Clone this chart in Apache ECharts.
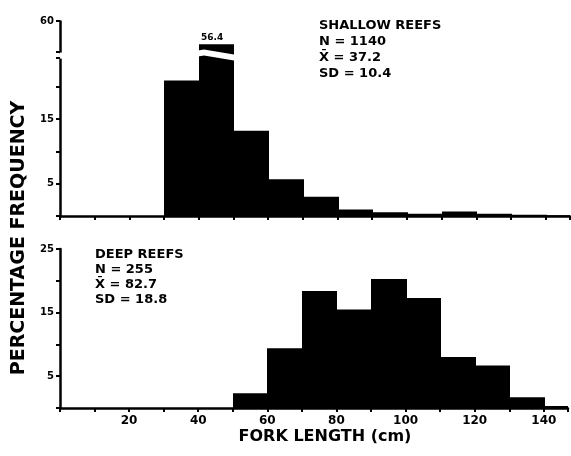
<!DOCTYPE html>
<html>
<head>
<meta charset="utf-8">
<script src="https://cdn.jsdelivr.net/npm/echarts@6/dist/echarts.min.js"></script>
<style>
	html, body { margin: 0; padding: 0; background: #fff; }
	#chart { width: 571px; height: 456px; }
</style>
</head>
<body>
<div id="chart"></div>
<script>
// histogram bins, 10 cm wide
var binStarts = [0, 10, 20, 30, 40, 50, 60, 70, 80, 90, 100, 110, 120, 130, 140]
var shallowPct = [0, 0, 0, 21.0, 56.4, 13.2, 5.7, 3.0, 1.0, 0.6, 0.35, 0.7, 0.35, 0.2, 0.1]
var deepPct = [0, 0, 0, 0, 0, 2.3, 9.4, 18.4, 15.5, 20.3, 17.3, 8.0, 6.7, 1.7, 0.3]
var binWidth = 10

var shallowTicks = [5, 15, 60]
var deepTicks = [5, 15, 25]
var xTicks = [20, 40, 60, 80, 100, 120, 140]

var shallowText = ['SHALLOW REEFS', 'N = 1140', 'X\u0304 = 37.2', 'SD = 10.4']
var deepText = ['DEEP REEFS', 'N = 255', 'X\u0304 = 82.7', 'SD = 18.8']
var peakLabel = '56.4'

var FONT = '"DejaVu Sans", "Liberation Sans", sans-serif'

function binsOf(values) {
	var out = []
	for (var x = 0; x < values.length; x++) {
		out.push([binStarts[x], binStarts[x] + binWidth, values[x]])
	}
	return out
}

//画直方图的柱子，坐标取整避免相邻柱子之间出现细缝
function renderBin(params, api) {
	var top = api.coord([api.value(0), api.value(2)])
	var bottom = api.coord([api.value(1), 0])
	var x0 = Math.round(top[0])
	var x1 = Math.round(bottom[0])
	return {
		type: 'rect',
		shape: { x: x0, y: top[1], width: x1 - x0 + 1, height: bottom[1] - top[1] },
		style: { fill: '#000' }
	}
}

function onlyTicks(list) {
	return function(v) {
		return list.indexOf(Math.round(v * 100) / 100) >= 0 ? String(v) : ''
	}
}

var axisLine = { show: true, lineStyle: { color: '#000', width: 2.5 } }
var axisTick = { show: true, length: 4, lineStyle: { color: '#000', width: 2 } }
var tickLabel = { color: '#000', fontFamily: FONT, fontWeight: 'bold', fontSize: 10, margin: 6 }

function textItem(str, x, y, size) {
	return {
		type: 'text', x: x, y: y, z: 100, zlevel: 2,
		style: { text: str, fill: '#000', font: 'bold ' + size + 'px ' + FONT, textVerticalAlign: 'top', verticalAlign: 'top' }
	}
}

function centred(item) {
	item.style.textAlign = 'center'
	item.style.align = 'center'
	item.style.textVerticalAlign = 'middle'
	item.style.verticalAlign = 'middle'
	return item
}

function textLines(lines, left, top, size, step) {
	var out = []
	for (var x = 0; x < lines.length; x++) {
		out.push(textItem(lines[x], left, top + x * step, size))
	}
	return out
}

var chart = echarts.init(document.getElementById('chart'), null, { renderer: 'canvas' })

var xTitle = centred(textItem('FORK LENGTH (cm)', 325, 437, 16))
var yTitle = centred(textItem('PERCENTAGE FREQUENCY', 19, 238, 19))
yTitle.rotation = Math.PI / 2

var graphics = []
	.concat(textLines(shallowText, 319, 19, 13, 16))
	.concat(textLines(deepText, 95, 248, 13, 15))
	.concat([textItem(peakLabel, 201, 33, 9), xTitle, yTitle])

chart.setOption({
	animation: false,
	backgroundColor: '#fff',
	grid: [
		{ left: 60, right: 1, top: 21, height: 195 },
		{ left: 60, right: 1, top: 249, height: 159 }
	],
	xAxis: [
		{ gridIndex: 0, type: 'value', min: 0, max: 147, interval: 10, axisLine: axisLine, axisTick: axisTick,
			axisLabel: { show: false }, splitLine: { show: false } },
		{ gridIndex: 1, type: 'value', min: 0, max: 147, interval: 10, axisLine: axisLine, axisTick: axisTick,
			axisLabel: Object.assign({ formatter: onlyTicks(xTicks) }, tickLabel, { fontSize: 12, margin: 7 }), splitLine: { show: false } }
	],
	yAxis: [
		{ gridIndex: 0, type: 'value', min: 0, max: 60, interval: 5,
			breaks: [{ start: 24.5, end: 55.2, gap: '3%' }],
			breakArea: { show: true, expandOnClick: false, zigzagAmplitude: 3, zigzagMinSpan: 36, zigzagMaxSpan: 36,
				itemStyle: { color: '#fff', borderColor: '#fff', borderWidth: 0, opacity: 1 } },
			axisLine: axisLine, axisTick: axisTick,
			axisLabel: Object.assign({ formatter: onlyTicks(shallowTicks) }, tickLabel), splitLine: { show: false } },
		{ gridIndex: 1, type: 'value', min: 0, max: 25, interval: 5, axisLine: axisLine, axisTick: axisTick,
			axisLabel: Object.assign({ formatter: onlyTicks(deepTicks) }, tickLabel), splitLine: { show: false } }
	],
	series: [
		{ type: 'custom', xAxisIndex: 0, yAxisIndex: 0, renderItem: renderBin, data: binsOf(shallowPct), clip: true },
		{ type: 'custom', xAxisIndex: 1, yAxisIndex: 1, renderItem: renderBin, data: binsOf(deepPct), clip: true }
	],
	graphic: graphics
})
</script>
</body>
</html>
